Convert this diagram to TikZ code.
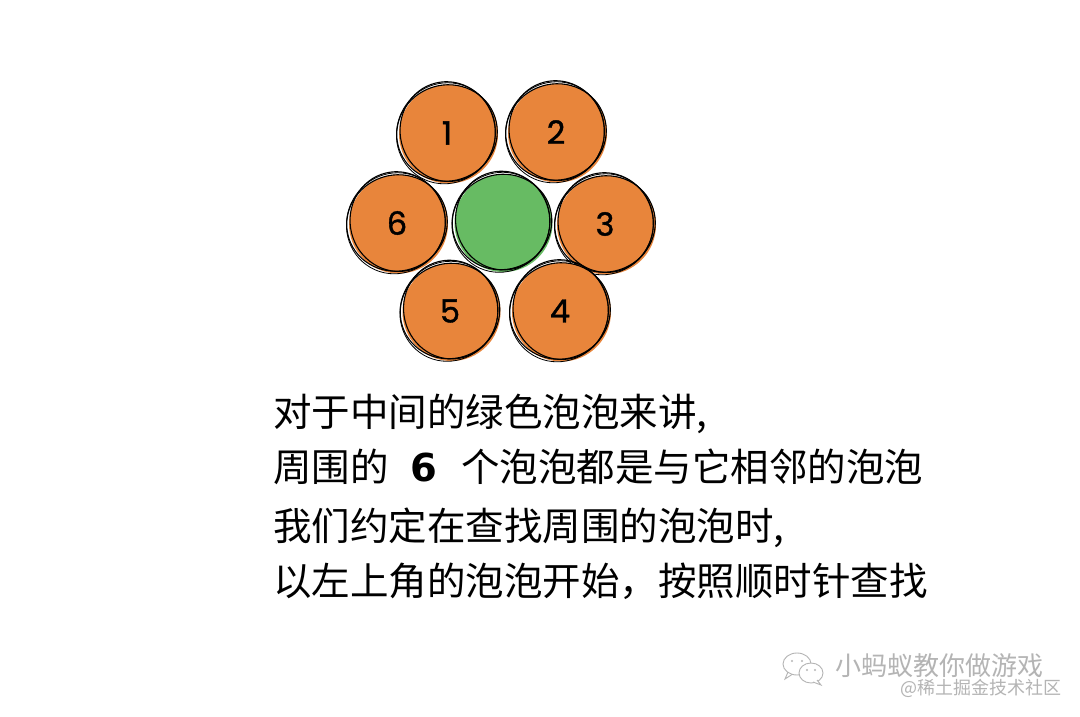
\documentclass[tikz,border=0pt]{standalone}
\usepackage{fontspec}
\newfontfamily\cjk{Noto Sans CJK SC}
\newfontfamily\numfont[FakeBold=1.2]{Poppins}
\newfontfamily\sixfont{DejaVu Sans}
\definecolor{bubor}{RGB}{232,133,59}
\definecolor{bubgr}{RGB}{103,187,99}
\definecolor{wmgray}{RGB}{150,150,150}
\definecolor{wmtext}{RGB}{180,180,180}
\tikzset{
  sk/.style={draw=black, line width=1.1bp},
  bubnum/.style={circle, minimum size=100bp, inner sep=0pt, font=\numfont\fontsize{32bp}{36bp}\selectfont},
  txt/.style={anchor=base west, inner sep=0pt, font=\cjk\fontsize{38.5bp}{46bp}\selectfont},
  wm/.style={anchor=west, inner sep=0pt, text=wmtext},
  icon/.style={draw=wmgray!70, line width=0.9bp}
}
\newcommand\sbub[6]{% name, x, y, fill colour, label, radius
  \fill[#4] (#2+1.5,#3+1) circle (#6 bp);
  \node[bubnum] (#1) at (#2,#3) {#5};
  \draw[sk, rotate around={18:(#1.center)}] (#1.center) ellipse [x radius=#6 bp+1bp, y radius=#6 bp-1.5bp];
  \draw[sk, rotate around={104:(#1.center)}] ([xshift=1.2bp,yshift=-1bp]#1.center) ellipse [x radius=#6 bp+0.5bp, y radius=#6 bp-2bp];
  \draw[sk, line width=0.8bp, rotate around={60:(#1.center)}] ([xshift=-0.8bp,yshift=0.8bp]#1.center) ellipse [x radius=#6 bp+1.5bp, y radius=#6 bp-0.5bp];
}
\begin{document}
\begin{tikzpicture}[x=1bp,y=-1bp]
\useasboundingbox[fill=white] (0,0) rectangle (1080,717);

\sbub{b1}{447}{133}{bubor}{1}{49.5}
\sbub{b2}{556}{132}{bubor}{2}{49.5}
\sbub{b6}{397}{223}{bubor}{6}{49.5}
\sbub{b3}{605}{224}{bubor}{3}{49.5}
\sbub{b5}{450}{311}{bubor}{5}{49}
\sbub{b4}{560}{311}{bubor}{4}{49.5}
\sbub{g}{502}{222}{bubgr}{}{49}

\node[txt] (l1) at (273,426) {对于中间的绿色泡泡来讲,};
\node[txt] (l2) at (273,481) {周围的\hspace{22bp}{\sixfont\bfseries 6}\hspace{24bp}个泡泡都是与它相邻的泡泡};
\node[txt] (l3) at (273,540) {我们约定在查找周围的泡泡时,};
\node[txt] (l4) at (273,595) {以左上角的泡泡开始，按照顺时针查找};

% watermark icon
\draw[icon, fill=white] (797,664) ellipse [x radius=14bp, y radius=11bp];
\draw[icon] (788,672) -- (785,679) -- (792,674.5);
\fill[wmgray!70] (792,661) circle (1.2bp) (802,661) circle (1.2bp);
\draw[icon, fill=white] (811,673) ellipse [x radius=12bp, y radius=10bp];
\draw[icon, fill=white] (817,680) -- (821,685) -- (813,682);
\fill[wmgray!70] (807,670) circle (1.1bp) (815,670) circle (1.1bp);

% watermark text
\node[wm] (wm1) at (835,666) {\cjk\fontsize{26bp}{30bp}\selectfont 小蚂蚁教你做游戏};
\node[wm] (wm2) at (900,688) {\cjk\fontsize{18bp}{22bp}\selectfont @稀土掘金技术社区};
\end{tikzpicture}
\end{document}
